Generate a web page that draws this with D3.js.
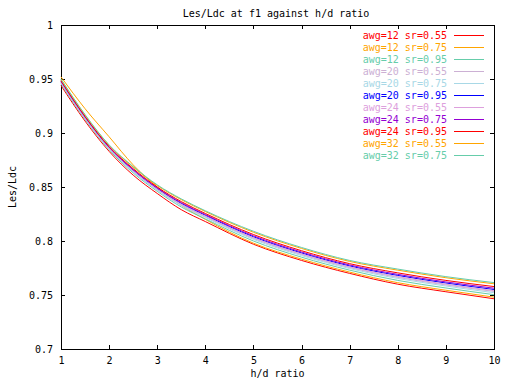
<!DOCTYPE html>
<html>
<head>
<meta charset="utf-8">
<script src="https://cdn.jsdelivr.net/npm/d3@7"></script>
<style>
  html, body { margin: 0; padding: 0; background: #fff; }
  svg text { font-family: "DejaVu Sans Mono", monospace; font-size: 10px; }
</style>
</head>
<body>
<svg id="chart" width="512" height="384"></svg>
<script>
// ---- data ----
const title = "Les/Ldc at f1 against h/d ratio";
const xLabel = "h/d ratio";
const yLabel = "Les/Ldc";
const xTicks = [1, 2, 3, 4, 5, 6, 7, 8, 9, 10];
const yTicks = [0.7, 0.75, 0.8, 0.85, 0.9, 0.95, 1];
const hd = [1, 1.5, 2, 2.5, 3, 3.5, 4, 5, 6, 7, 8, 9, 10];

const seriesNames = [
  "awg=12 sr=0.55", "awg=12 sr=0.75", "awg=12 sr=0.95",
  "awg=20 sr=0.55", "awg=20 sr=0.75", "awg=20 sr=0.95",
  "awg=24 sr=0.55", "awg=24 sr=0.75", "awg=24 sr=0.95",
  "awg=32 sr=0.55", "awg=32 sr=0.75"
];
const seriesColors = [
  "#ff0000", "#ffa500", "#66cdaa",
  "#ccb0d4", "#a8d8e6", "#0000ff",
  "#dda0dd", "#9400d3", "#ff0000",
  "#ffa500", "#66cdaa"
];

const awg12_sr055 = [0.944, 0.911, 0.883, 0.861, 0.844, 0.829, 0.818, 0.797, 0.782, 0.770, 0.760, 0.753, 0.7465];
const awg12_sr075 = [0.952, 0.9225, 0.8965, 0.8705, 0.850, 0.833, 0.820, 0.798, 0.7832, 0.7712, 0.7614, 0.7544, 0.748];
const awg12_sr095 = [0.9455, 0.9125, 0.8845, 0.863, 0.846, 0.8315, 0.8205, 0.800, 0.785, 0.773, 0.7635, 0.7565, 0.7503];
const awg20_sr055 = [0.9467, 0.9137, 0.8857, 0.8646, 0.8476, 0.8335, 0.8225, 0.8024, 0.7874, 0.7754, 0.7663, 0.7593, 0.7533];
const awg20_sr075 = [0.9463, 0.9133, 0.8853, 0.864, 0.847, 0.8328, 0.8218, 0.8015, 0.7865, 0.7745, 0.7653, 0.7583, 0.7521];
const awg20_sr095 = [0.9475, 0.9145, 0.8865, 0.8656, 0.8486, 0.8348, 0.8238, 0.8039, 0.7889, 0.7769, 0.7681, 0.7611, 0.7551];
const awg24_sr055 = [0.947, 0.914, 0.886, 0.865, 0.848, 0.834, 0.823, 0.803, 0.788, 0.776, 0.767, 0.760, 0.754];
const awg24_sr075 = [0.9479, 0.9149, 0.8869, 0.8662, 0.8492, 0.8355, 0.8245, 0.8048, 0.7898, 0.7778, 0.7691, 0.7621, 0.7563];
const awg24_sr095 = [0.9485, 0.9155, 0.8875, 0.867, 0.850, 0.8365, 0.8255, 0.806, 0.791, 0.779, 0.7705, 0.7635, 0.7578];
const awg32_sr055 = [0.9495, 0.9166, 0.8886, 0.8684, 0.8514, 0.8383, 0.8273, 0.8081, 0.7931, 0.7811, 0.773, 0.766, 0.7604];
const awg32_sr075 = [0.950, 0.917, 0.889, 0.869, 0.852, 0.839, 0.828, 0.809, 0.794, 0.782, 0.774, 0.767, 0.7615];

const seriesValues = [
  awg12_sr055, awg12_sr075, awg12_sr095,
  awg20_sr055, awg20_sr075, awg20_sr095,
  awg24_sr055, awg24_sr075, awg24_sr095,
  awg32_sr055, awg32_sr075
];

// ---- layout ----
const svg = d3.select("#chart");
const L = 61, R = 494, T = 25, B = 349;
const x = d3.scaleLinear().domain([1, 10]).range([L, R]);
const y = d3.scaleLinear().domain([0.7, 1]).range([B, T]);
const tickLen = 4;

// axes (ticks inward, mirrored)
const axB = svg.append("g").attr("transform", `translate(0,${B})`)
  .call(d3.axisBottom(x).tickValues(xTicks).tickFormat(d3.format("d")).tickSizeInner(-tickLen).tickSizeOuter(0).tickPadding(8));
const axT = svg.append("g").attr("transform", `translate(0,${T})`)
  .call(d3.axisTop(x).tickValues(xTicks).tickFormat("").tickSizeInner(-tickLen).tickSizeOuter(0));
const axL = svg.append("g").attr("transform", `translate(${L},0)`)
  .call(d3.axisLeft(y).tickValues(yTicks).tickFormat(d => String(+d.toFixed(2))).tickSizeInner(-tickLen).tickSizeOuter(0).tickPadding(8));
const axR = svg.append("g").attr("transform", `translate(${R},0)`)
  .call(d3.axisRight(y).tickValues(yTicks).tickFormat("").tickSizeInner(-tickLen).tickSizeOuter(0));
[axB, axT, axL, axR].forEach(g => {
  g.select(".domain").remove();
  g.selectAll("line").attr("stroke", "#000").attr("shape-rendering", "crispEdges");
  g.selectAll("text").attr("font-family", "DejaVu Sans Mono, monospace").attr("font-size", 10).attr("fill", "#000");
});
axB.selectAll("text").attr("dy", "0.71em");

// border
svg.append("rect").attr("x", L + 0.5).attr("y", T + 0.5)
  .attr("width", R - L).attr("height", B - T)
  .attr("fill", "none").attr("stroke", "#000").attr("shape-rendering", "crispEdges");

// titles
svg.append("text").attr("x", 276).attr("y", 17).attr("text-anchor", "middle").attr("fill", "#000").text(title);
svg.append("text").attr("x", (L + R) / 2).attr("y", 377).attr("text-anchor", "middle").attr("fill", "#000").text(xLabel);
svg.append("text").attr("transform", `translate(16,${(T + B) / 2}) rotate(-90)`)
  .attr("text-anchor", "middle").attr("fill", "#000").text(yLabel);

// lines
const line = d3.line().x((d, i) => x(hd[i])).y(d => y(d)).curve(d3.curveMonotoneX);
const plot = svg.append("g");
seriesValues.forEach((vals, i) => {
  plot.append("path").datum(vals).attr("d", line)
    .attr("fill", "none").style("stroke", seriesColors[i]).attr("stroke-width", 1);
});

// legend
const leg = svg.append("g");
seriesNames.forEach((name, i) => {
  const yy = 35 + i * 12;
  leg.append("text").attr("x", 447).attr("y", yy).attr("dy", "0.35em")
    .attr("text-anchor", "end").style("fill", seriesColors[i]).text(name);
  leg.append("rect").attr("x", 454).attr("y", yy).attr("width", 30).attr("height", 1)
    .style("fill", seriesColors[i]).attr("shape-rendering", "crispEdges");
});
</script>
</body>
</html>
